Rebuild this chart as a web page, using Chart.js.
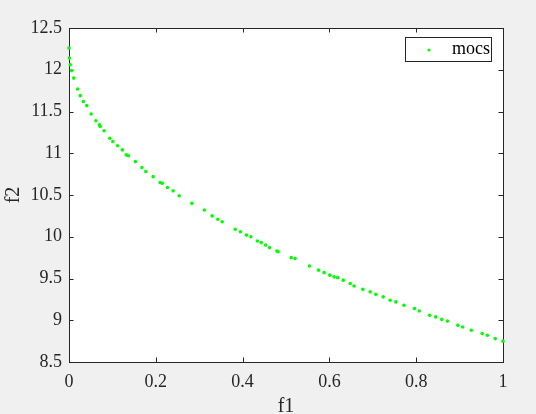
<!DOCTYPE html>
<html>
<head>
<meta charset="utf-8">
<script src="https://cdn.jsdelivr.net/npm/chart.js@4/dist/chart.umd.min.js"></script>
<style>
  html, body { margin: 0; padding: 0; background: #f0f0f0; }
  canvas { display: block; }
</style>
</head>
<body>
<canvas id="paretoChart" width="536" height="414"></canvas>
<script>
// values
const f1 = [0, 0.001, 0.003, 0.006, 0.011, 0.020, 0.026, 0.033, 0.041, 0.051,
  0.062, 0.070, 0.072, 0.081, 0.094, 0.101, 0.112, 0.123, 0.132, 0.137,
  0.153, 0.168, 0.177, 0.194, 0.210, 0.215, 0.227, 0.240, 0.254, 0.283,
  0.312, 0.330, 0.343, 0.353, 0.383, 0.395, 0.409, 0.419, 0.434, 0.443,
  0.453, 0.462, 0.479, 0.482, 0.512, 0.521, 0.554, 0.575, 0.588, 0.601,
  0.611, 0.619, 0.632, 0.648, 0.657, 0.677, 0.694, 0.707, 0.724, 0.740,
  0.753, 0.772, 0.796, 0.807, 0.831, 0.845, 0.859, 0.872, 0.896, 0.907,
  0.927, 0.952, 0.964, 0.982, 1.0];
const f2 = [12.26, 12.14, 12.06, 11.99, 11.90, 11.77, 11.69, 11.62, 11.57, 11.47,
  11.39, 11.34, 11.32, 11.27, 11.18, 11.14, 11.09, 11.04, 10.98, 10.97,
  10.90, 10.83, 10.78, 10.72, 10.65, 10.64, 10.59, 10.55, 10.49, 10.40,
  10.32, 10.25, 10.21, 10.18, 10.09, 10.06, 10.02, 10.00, 9.95, 9.93,
  9.90, 9.87, 9.83, 9.82, 9.75, 9.74, 9.65, 9.60, 9.57, 9.54,
  9.52, 9.51, 9.48, 9.44, 9.41, 9.37, 9.34, 9.31, 9.28, 9.24,
  9.22, 9.18, 9.14, 9.11, 9.06, 9.04, 9.01, 8.99, 8.94, 8.92,
  8.88, 8.84, 8.82, 8.78, 8.75];
const seriesName = 'mocs';
const xTitle = 'f1';
const yTitle = 'f2';
const xRange = [0, 1], xStep = 0.2;
const yRange = [8.5, 12.5], yStep = 0.5;

const axisColor = '#262626';
const serif = '"Liberation Serif", "Times New Roman", serif';

const points = f1.map((x, i) => ({x: x, y: f2[i]}));

// matlab style: white axes box, inward ticks on all sides, boxed legend
const matlabAxes = {
  id: 'matlabAxes',
  beforeDraw(chart) {
    const {ctx, chartArea: a} = chart;
    ctx.save();
    ctx.fillStyle = '#f0f0f0';
    ctx.fillRect(0, 0, chart.width, chart.height);
    ctx.fillStyle = '#ffffff';
    ctx.fillRect(a.left, a.top, a.right - a.left, a.bottom - a.top);
    ctx.restore();
  },
  beforeDatasetsDraw(chart) {
    const {ctx, chartArea: a, scales} = chart;
    const len = 4.5;
    ctx.save();
    ctx.strokeStyle = axisColor;
    ctx.lineWidth = 1;
    ctx.beginPath();
    scales.x.ticks.forEach(t => {
      const px = Math.round(scales.x.getPixelForValue(t.value)) + 0.5;
      ctx.moveTo(px, a.bottom); ctx.lineTo(px, a.bottom - len);
      ctx.moveTo(px, a.top); ctx.lineTo(px, a.top + len);
    });
    scales.y.ticks.forEach(t => {
      const py = Math.round(scales.y.getPixelForValue(t.value)) + 0.5;
      ctx.moveTo(a.left, py); ctx.lineTo(a.left + len, py);
      ctx.moveTo(a.right, py); ctx.lineTo(a.right - len, py);
    });
    ctx.stroke();
    ctx.strokeRect(Math.round(a.left) + 0.5, Math.round(a.top) + 0.5,
      Math.round(a.right - a.left), Math.round(a.bottom - a.top));
    ctx.restore();
  },
  afterDraw(chart) {
    const {ctx, chartArea: a} = chart;
    const ds = chart.data.datasets[0];
    const bx = a.right - 97.5, by = a.top + 9.5, bw = 86, bh = 24;
    ctx.save();
    ctx.fillStyle = '#ffffff';
    ctx.fillRect(bx, by, bw, bh);
    ctx.strokeStyle = axisColor;
    ctx.lineWidth = 1;
    ctx.strokeRect(bx, by, bw, bh);
    ctx.fillStyle = ds.backgroundColor;
    ctx.beginPath();
    ctx.arc(bx + 23.5, by + 12.5, 1.6, 0, Math.PI * 2);
    ctx.fill();
    ctx.fillStyle = '#000000';
    ctx.font = '18px ' + serif;
    ctx.textBaseline = 'middle';
    ctx.fillText(ds.label, bx + 46.5, by + 12);
    ctx.restore();
  }
};

const fmt = v => String(Number(v.toFixed(2)));

const config = {
  type: 'scatter',
  data: {
    datasets: [{
      label: seriesName,
      data: points,
      backgroundColor: '#00ff00',
      borderColor: '#00ff00',
      borderWidth: 0,
      pointRadius: 1.8,
      pointHoverRadius: 1.8,
      clip: false
    }]
  },
  options: {
    responsive: false,
    animation: false,
    events: [],
    layout: {padding: {top: 28, right: 33, left: 0, bottom: 0}},
    plugins: {legend: {display: false}, tooltip: {enabled: false}},
    scales: {
      x: {
        type: 'linear',
        min: xRange[0], max: xRange[1],
        ticks: {stepSize: xStep, color: axisColor, padding: 9, maxRotation: 0,
          font: {family: serif, size: 18}, callback: fmt},
        grid: {display: false, drawTicks: false},
        border: {display: false},
        title: {display: true, text: xTitle, color: axisColor,
          font: {family: serif, size: 20, lineHeight: 1}, padding: {top: 0, bottom: -3}},
        afterFit(s) { s.height = 52; }
      },
      y: {
        type: 'linear',
        min: yRange[0], max: yRange[1],
        ticks: {stepSize: yStep, color: axisColor, padding: 7,
          font: {family: serif, size: 18}, callback: fmt},
        grid: {display: false, drawTicks: false},
        border: {display: false},
        title: {display: true, text: yTitle, color: axisColor,
          font: {family: serif, size: 20, lineHeight: 1}, padding: {top: 4, bottom: 0}},
        afterFit(s) { s.width = 69; }
      }
    }
  },
  plugins: [matlabAxes]
};

const chartPareto = new Chart(document.getElementById('paretoChart'), config);
</script>
</body>
</html>
